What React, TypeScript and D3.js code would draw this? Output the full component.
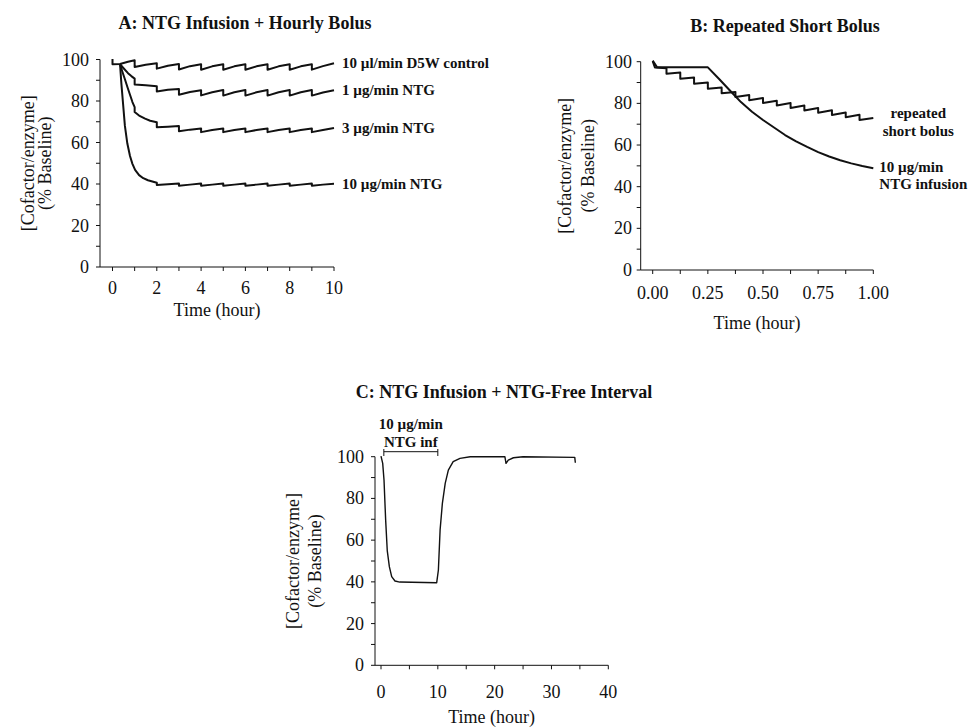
import React from 'react';
import * as d3 from 'd3';

type Pt = [number, number];

// ---------- Panel A: NTG Infusion + Hourly Bolus (time in hours, % baseline) ----------
const aControl: Pt[] = [
  [0, 100.2], [0, 97.7], [0.34, 97.8], [0.7, 98.9], [1, 99.6], [1, 96.4], [1.5, 97.5], [2, 98.2],
  [2, 95.6], [2.5, 97.0], [3, 97.8], [3, 95.2], [3.5, 96.8], [4, 97.7], [4, 95.1], [4.5, 96.7],
  [5, 97.7], [5, 95.1], [5.5, 96.7], [6, 97.7], [6, 95.1], [6.5, 96.7], [7, 97.7], [7, 95.1],
  [7.5, 96.7], [8, 97.7], [8, 95.1], [8.5, 96.7], [9, 97.7], [9, 95.1], [9.5, 96.8], [10, 98.2],
];
const aNtg1: Pt[] = [
  [0.34, 97.7], [0.5, 95.8], [0.7, 93.4], [0.85, 92.0], [1, 90.8], [1, 88.0], [1.5, 87.6], [2, 87.1],
  [2, 84.6], [2.5, 85.4], [3, 85.8], [3, 83.0], [3.5, 84.3], [4, 85.2], [4, 82.7], [4.5, 84.2],
  [5, 85.3], [5, 82.6], [5.5, 84.2], [6, 85.3], [6, 82.6], [6.5, 84.2], [7, 85.3], [7, 82.6],
  [7.5, 84.2], [8, 85.3], [8, 82.6], [8.5, 84.2], [9, 85.3], [9, 82.6], [9.5, 84.1], [10, 85.2],
];
const aNtg3: Pt[] = [
  [0.34, 97.7], [0.45, 94.0], [0.56, 90.5], [0.68, 86.5], [0.79, 83.0], [0.9, 79.5], [1, 77.0],
  [1, 74.7], [1.2, 73.0], [1.47, 71.5], [1.7, 70.5], [2, 69.8], [2, 67.3], [2.5, 67.6], [3, 67.9],
  [3, 65.4], [3.5, 66.2], [4, 66.8], [4, 65.0], [4.5, 66.0], [5, 66.8], [5, 65.0], [5.5, 66.0],
  [6, 66.8], [6, 65.0], [6.5, 66.0], [7, 66.8], [7, 65.0], [7.5, 66.0], [8, 66.8], [8, 65.0],
  [8.5, 66.0], [9, 66.8], [9, 65.0], [9.5, 66.0], [10, 67.0],
];
const aNtg10: Pt[] = [
  [0.34, 97.7], [0.4, 88.5], [0.47, 79.5], [0.56, 68.0], [0.67, 59.5], [0.79, 53.5], [0.9, 49.7],
  [1.02, 46.8], [1.2, 44.3], [1.39, 42.8], [1.6, 41.8], [1.84, 41.1], [2, 40.6], [2, 39.5],
  [2.5, 39.9], [3, 40.3], [3, 39.2], [3.5, 39.7], [4, 40.2], [4, 39.2], [4.5, 39.7], [5, 40.2],
  [5, 39.2], [5.5, 39.7], [6, 40.2], [6, 39.2], [6.5, 39.7], [7, 40.2], [7, 39.2], [7.5, 39.7],
  [8, 40.2], [8, 39.2], [8.5, 39.7], [9, 40.2], [9, 39.2], [9.5, 39.7], [10, 40.1],
];
const aSeriesLabels = ['10 \u00b5l/min D5W control', '1 \u00b5g/min NTG', '3 \u00b5g/min NTG', '10 \u00b5g/min NTG'];
const aXTicks = [0, 1, 2, 3, 4, 5, 6, 7, 8, 9, 10];
const aXTickLabels = [0, 2, 4, 6, 8, 10];

// ---------- Panel B: Repeated Short Bolus ----------
const bBolus: Pt[] = [
  [0, 100.3], [0.01, 97.2], [0.0625, 96.9], [0.0625, 94.2], [0.125, 94.8], [0.125, 91.8],
  [0.1875, 92.4], [0.1875, 89.4], [0.25, 90.0], [0.25, 87.0], [0.3125, 87.6], [0.3125, 84.8],
  [0.375, 85.5], [0.375, 83.0], [0.4375, 84.0], [0.4375, 81.5], [0.5, 82.6], [0.5, 80.2],
  [0.5625, 81.3], [0.5625, 79.0], [0.625, 80.2], [0.625, 77.8], [0.6875, 79.0], [0.6875, 76.6],
  [0.75, 77.8], [0.75, 75.5], [0.8125, 76.7], [0.8125, 74.4], [0.875, 75.6], [0.875, 73.3],
  [0.9375, 74.5], [0.9375, 72.0], [1.0, 73.0],
];
const bInfusion: Pt[] = [
  [0, 100.5], [0.02, 97.3], [0.25, 97.3], [0.3, 91.8], [0.35, 86.2], [0.4, 80.6], [0.45, 76.0],
  [0.5, 72.0], [0.55, 68.4], [0.6, 64.8], [0.65, 61.8], [0.7, 59.1], [0.75, 56.6], [0.8, 54.5],
  [0.85, 52.7], [0.9, 51.2], [0.95, 49.9], [1.0, 48.8],
];
const bBolusLabel = ['repeated', 'short bolus'];
const bInfusionLabel = ['10 \u00b5g/min', 'NTG infusion'];
const bXTicks = [0, 0.125, 0.25, 0.375, 0.5, 0.625, 0.75, 0.875, 1];
const bXTickLabels = [0, 0.25, 0.5, 0.75, 1];

// ---------- Panel C: NTG Infusion + NTG-Free Interval ----------
const cSeries: Pt[] = [
  [0, 100.3], [0.3, 96.8], [0.53, 88.8], [0.82, 69.6], [1.1, 55.0], [1.47, 47.3], [1.88, 42.5],
  [2.46, 40.4], [3.3, 39.9], [9.8, 39.6], [10.1, 45.7], [10.4, 64.9], [10.8, 77.6], [11.3, 87.2],
  [11.85, 93.6], [12.7, 97.6], [13.9, 99.2], [15.7, 100], [21.8, 100], [22, 96.8], [22.4, 98.4],
  [23.3, 99.5], [25, 100], [34.1, 99.7], [34.2, 97.1],
];
const cInfusionWindow = [0.5, 10];
const cAnnotation = ['10 \u00b5g/min', 'NTG inf'];
const cXTicks = [0, 5, 10, 15, 20, 25, 30, 35, 40];
const cXTickLabels = [0, 10, 20, 30, 40];

// shared y axis
const yTicks = [0, 10, 20, 30, 40, 50, 60, 70, 80, 90, 100];
const yTickLabels = [0, 20, 40, 60, 80, 100];

const titles = ['A: NTG Infusion + Hourly Bolus', 'B: Repeated Short Bolus', 'C: NTG Infusion + NTG-Free Interval'];
const yTitle = ['[Cofactor/enzyme]', '(% Baseline)'];
const xTitle = 'Time (hour)';

const FONT = '"Liberation Serif", "Times New Roman", serif';
const INK = '#111';
const TICK_FS = 18;
const AXT_FS = 18;
const TITLE_FS = 18;
const LABEL_FS = 15;

type AxesProps = {
  x: d3.ScaleLinear<number, number>;
  y: d3.ScaleLinear<number, number>;
  axisX: number;
  xTicks: number[];
  xTickLabels: number[];
  fmt: (v: number) => string;
  xLabelY: number;
  yLabelRight: number;
  xTitleY: number;
  yTitleX: [number, number];
};

function Axes({ x, y, axisX, xTicks, xTickLabels, fmt, xLabelY, yLabelRight, xTitleY, yTitleX }: AxesProps) {
  const y0 = y(0);
  const yTop = y(100);
  const xEnd = x(x.domain()[1]);
  const midY = (y0 + yTop) / 2;
  return (
    <g fontFamily={FONT} fill={INK}>
      <line x1={axisX} x2={axisX} y1={yTop} y2={y0} stroke={INK} strokeWidth={1} />
      <line x1={axisX} x2={xEnd} y1={y0} y2={y0} stroke={INK} strokeWidth={1} />
      {yTicks.map((t) => (
        <line key={'yt' + t} x1={axisX - 4} x2={axisX} y1={y(t)} y2={y(t)} stroke={INK} strokeWidth={1} />
      ))}
      {yTickLabels.map((t) => (
        <text key={'yl' + t} x={yLabelRight} y={y(t)} textAnchor="end" dominantBaseline="central" fontSize={TICK_FS}>
          {t}
        </text>
      ))}
      {xTicks.map((t) => (
        <line key={'xt' + t} x1={x(t)} x2={x(t)} y1={y0} y2={y0 + 4} stroke={INK} strokeWidth={1} />
      ))}
      {xTickLabels.map((t) => (
        <text key={'xl' + t} x={x(t)} y={xLabelY} textAnchor="middle" dominantBaseline="central" fontSize={TICK_FS}>
          {fmt(t)}
        </text>
      ))}
      <text x={(axisX + xEnd) / 2} y={xTitleY} textAnchor="middle" dominantBaseline="central" fontSize={AXT_FS}>
        {xTitle}
      </text>
      {yTitle.map((s, i) => (
        <text
          key={s}
          transform={`translate(${yTitleX[i]},${midY}) rotate(-90)`}
          textAnchor="middle"
          dominantBaseline="central"
          fontSize={AXT_FS}
        >
          {s}
        </text>
      ))}
    </g>
  );
}

export default function App() {
  // Panel A scales
  const ax = d3.scaleLinear().domain([0, 10]).range([112.5, 334]);
  const ay = d3.scaleLinear().domain([0, 100]).range([267, 59.5]);
  // Panel B scales
  const bx = d3.scaleLinear().domain([0, 1]).range([652.7, 873.3]);
  const by = d3.scaleLinear().domain([0, 100]).range([270, 61.7]);
  // Panel C scales
  const cx = d3.scaleLinear().domain([0, 40]).range([381, 608.3]);
  const cy = d3.scaleLinear().domain([0, 100]).range([665.3, 456.7]);

  const lineA = d3.line<Pt>().x((d) => ax(d[0])).y((d) => ay(d[1]));
  const lineB = d3.line<Pt>().x((d) => bx(d[0])).y((d) => by(d[1]));
  const lineC = d3.line<Pt>().x((d) => cx(d[0])).y((d) => cy(d[1]));

  const aSeries = [aControl, aNtg1, aNtg3, aNtg10];
  const fmtInt = (v: number) => String(v);
  const fmt2 = d3.format('.2f');

  const bBolusEnd = bBolus[bBolus.length - 1];
  const bInfEnd = bInfusion[bInfusion.length - 1];

  return (
    <svg
      width={969}
      height={728}
      style={{ position: 'absolute', left: 0, top: 0, background: '#fff' }}
      xmlns="http://www.w3.org/2000/svg"
    >
      <rect x={0} y={0} width={969} height={728} fill="#fff" />

      {/* Panel A */}
      <text x={245} y={23} textAnchor="middle" dominantBaseline="central" fontFamily={FONT} fontWeight="bold" fontSize={TITLE_FS} fill={INK}>
        {titles[0]}
      </text>
      <Axes
        x={ax}
        y={ay}
        axisX={100}
        xTicks={aXTicks}
        xTickLabels={aXTickLabels}
        fmt={fmtInt}
        xLabelY={288}
        yLabelRight={89}
        xTitleY={310}
        yTitleX={[28, 45]}
      />
      {aSeries.map((s, i) => (
        <path key={'a' + i} d={lineA(s) || ''} fill="none" stroke={INK} strokeWidth={2} strokeLinejoin="round" />
      ))}
      {aSeries.map((s, i) => {
        const last = s[s.length - 1];
        return (
          <text
            key={'al' + i}
            x={ax(last[0]) + 8}
            y={ay(last[1])}
            dominantBaseline="central"
            fontFamily={FONT}
            fontWeight="bold"
            fontSize={LABEL_FS}
            fill={INK}
          >
            {aSeriesLabels[i]}
          </text>
        );
      })}

      {/* Panel B */}
      <text x={785} y={26} textAnchor="middle" dominantBaseline="central" fontFamily={FONT} fontWeight="bold" fontSize={TITLE_FS} fill={INK}>
        {titles[1]}
      </text>
      <Axes
        x={bx}
        y={by}
        axisX={640.7}
        xTicks={bXTicks}
        xTickLabels={bXTickLabels}
        fmt={fmt2}
        xLabelY={293}
        yLabelRight={632}
        xTitleY={323}
        yTitleX={[565, 588]}
      />
      <path d={lineB(bBolus) || ''} fill="none" stroke={INK} strokeWidth={2} strokeLinejoin="round" />
      <path d={lineB(bInfusion) || ''} fill="none" stroke={INK} strokeWidth={2} strokeLinejoin="round" />
      {bBolusLabel.map((s, i) => (
        <text
          key={'bb' + i}
          x={bx(bBolusEnd[0]) + 45}
          y={by(bBolusEnd[1]) - 5 + i * 18}
          textAnchor="middle"
          dominantBaseline="central"
          fontFamily={FONT}
          fontWeight="bold"
          fontSize={LABEL_FS}
          fill={INK}
        >
          {s}
        </text>
      ))}
      {bInfusionLabel.map((s, i) => (
        <text
          key={'bi' + i}
          x={bx(bInfEnd[0]) + 6}
          y={by(bInfEnd[1]) - 1 + i * 17}
          dominantBaseline="central"
          fontFamily={FONT}
          fontWeight="bold"
          fontSize={LABEL_FS}
          fill={INK}
        >
          {s}
        </text>
      ))}

      {/* Panel C */}
      <text x={504} y={392} textAnchor="middle" dominantBaseline="central" fontFamily={FONT} fontWeight="bold" fontSize={TITLE_FS} fill={INK}>
        {titles[2]}
      </text>
      <Axes
        x={cx}
        y={cy}
        axisX={375}
        xTicks={cXTicks}
        xTickLabels={cXTickLabels}
        fmt={fmtInt}
        xLabelY={692}
        yLabelRight={364}
        xTitleY={717}
        yTitleX={[293, 315]}
      />
      <path d={lineC(cSeries) || ''} fill="none" stroke={INK} strokeWidth={1.4} strokeLinejoin="round" />
      <g stroke={INK} strokeWidth={1}>
        <line x1={cx(cInfusionWindow[0])} x2={cx(cInfusionWindow[1])} y1={451.7} y2={451.7} />
        <line x1={cx(cInfusionWindow[0])} x2={cx(cInfusionWindow[0])} y1={449} y2={456} />
        <line x1={cx(cInfusionWindow[1])} x2={cx(cInfusionWindow[1])} y1={449} y2={456} />
      </g>
      {cAnnotation.map((s, i) => (
        <text
          key={'ca' + i}
          x={(cx(cInfusionWindow[0]) + cx(cInfusionWindow[1])) / 2}
          y={424 + i * 18}
          textAnchor="middle"
          dominantBaseline="central"
          fontFamily={FONT}
          fontWeight="bold"
          fontSize={LABEL_FS}
          fill={INK}
        >
          {s}
        </text>
      ))}
    </svg>
  );
}
